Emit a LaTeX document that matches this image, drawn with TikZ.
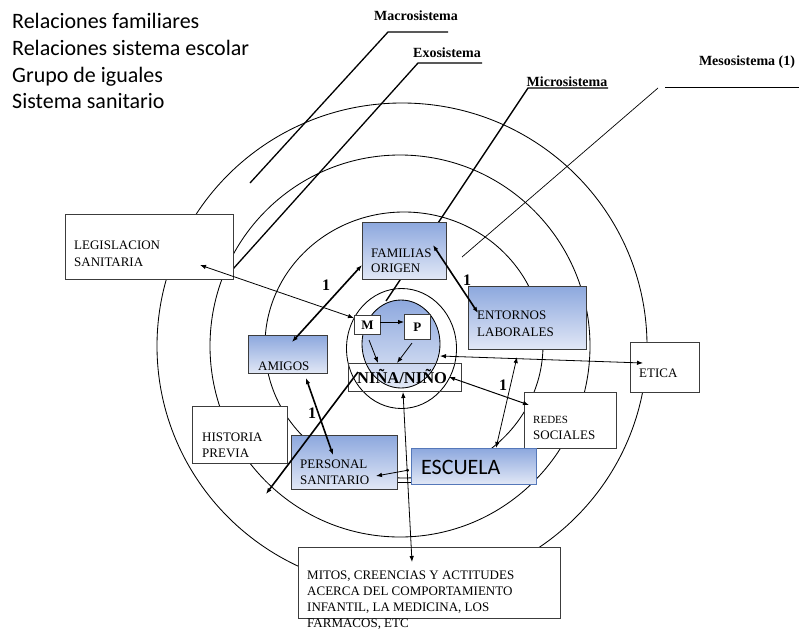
\documentclass[tikz,border=0pt]{standalone}
\usepackage{fontspec}
\setmainfont{Liberation Serif}
\newfontfamily\calib{Carlito}
\usetikzlibrary{arrows.meta,calc}
\definecolor{blueT}{RGB}{141,168,222}
\definecolor{blueB}{RGB}{226,232,246}
\definecolor{edgeG}{RGB}{60,60,60}
\definecolor{escB}{RGB}{85,120,185}
\begin{document}
\begin{tikzpicture}[x=1pt,y=-1pt,
  wbox/.style={draw=edgeG, fill=white, line width=0.8pt, inner sep=0pt, anchor=north west},
  bbox/.style={draw=edgeG, top color=blueT, bottom color=blueB, line width=0.9pt, inner sep=0pt, anchor=north west},
  txt/.style={font=\fontsize{13}{15}\selectfont, inner sep=0pt, anchor=base west},
  stxt/.style={font=\fontsize{11}{13}\selectfont, inner sep=0pt, anchor=base west},
  lbl/.style={font=\bfseries\fontsize{14}{16}\selectfont, inner sep=0pt, anchor=base},
  one/.style={font=\bfseries\fontsize{16}{18}\selectfont, inner sep=0pt},
  tl/.style={font=\calib\fontsize{22}{24}\selectfont, inner sep=0pt, anchor=base west},
  ring/.style={draw=black, line width=0.85pt},
  thinl/.style={line width=0.8pt},
  thickl/.style={line width=1.6pt},
  arr/.style={-{Latex[length=6pt,width=4.5pt]}},
  darr/.style={{Latex[length=6pt,width=4.5pt]}-{Latex[length=6pt,width=4.5pt]}}
]
\useasboundingbox (0,0) rectangle (799,632);
\fill[white] (0,0) rectangle (799,632);

% rings
\draw[ring] (402,346) ellipse [x radius=245pt, y radius=243pt];
\draw[ring] (400,346) ellipse [x radius=190pt, y radius=191pt];
\draw[ring] (404,345) ellipse [x radius=139pt, y radius=133pt];
\draw[ring] (401.5,348.5) ellipse [x radius=55pt, y radius=60pt];
\shade[top color=blueT, bottom color=blueB] (401,344) ellipse [x radius=39pt, y radius=44pt];
\draw[ring] (401,344) ellipse [x radius=39pt, y radius=44pt];

% top-left list
\node[tl] (l1) at (12,28) {Relaciones familiares};
\node[tl] (l2) at (12,55) {Relaciones sistema escolar};
\node[tl] (l3) at (12,82) {Grupo de iguales};
\node[tl] (l4) at (12,108) {Sistema sanitario};

% system labels and leaders
\node[lbl] (macro) at (416,20) {Macrosistema};
\node[lbl] (exo) at (447,57) {Exosistema};
\node[lbl] (micro) at (567,86) {Microsistema};
\node[lbl] (meso) at (747,65) {Mesosistema (1)};
\coordinate (macA) at (388,32); \coordinate (macB) at (448,32); \coordinate (macE) at (250,183);
\coordinate (exoA) at (418,63); \coordinate (exoB) at (482,63); \coordinate (exoE) at (233,269);
\coordinate (micA) at (528,88); \coordinate (micB) at (608,88); \coordinate (micE) at (386,301);
\coordinate (mesA) at (658,88); \coordinate (mesU) at (665,87); \coordinate (mesB) at (799,87); \coordinate (mesE) at (462,257);
\draw[line width=1.3pt] (macB) -- (macA) -- (macE);
\draw[line width=1.3pt] (exoB) -- (exoA) -- (exoE);
\draw[line width=1.4pt] (micB) -- (micA) -- (micE);
\draw[line width=0.8pt] (mesU) -- (mesB);
\draw[line width=0.7pt] (mesA) -- (mesE);

% boxes
\node[wbox, minimum width=168pt, minimum height=65pt] (leg) at (65,214) {};
\node[bbox, minimum width=84pt, minimum height=57pt] (fam) at (362,222) {};
\node[bbox, minimum width=118pt, minimum height=63pt] (ent) at (468,286) {};
\node[bbox, minimum width=79pt, minimum height=38pt] (ami) at (248,335) {};
\node[draw=edgeG, line width=0.8pt, inner sep=0pt, anchor=north west, minimum width=113pt, minimum height=28pt] (nin) at (348,363) {};
\node[wbox, minimum width=26pt, minimum height=19pt] (M) at (354,315) {};
\node[wbox, minimum width=26pt, minimum height=25pt] (P) at (404,314) {};
\node[wbox, minimum width=95pt, minimum height=57pt] (his) at (192,406) {};
\node[bbox, minimum width=106pt, minimum height=54pt] (per) at (291,435) {};
\node[wbox, minimum width=92pt, minimum height=56pt] (red) at (524,392) {};
\node[bbox, draw=escB, minimum width=125pt, minimum height=36pt] (esc) at (411,448) {};
\node[wbox, minimum width=69pt, minimum height=50pt] (eti) at (630,342) {};
\node[wbox, minimum width=262pt, minimum height=71pt] (mit) at (298,547) {};

% box texts
\node[txt] (tleg1) at (74,249) {LEGISLACION};
\node[txt] (tleg2) at (74,266) {SANITARIA};
\node[txt] (tfam1) at (371,257) {FAMILIAS};
\node[txt] (tfam2) at (371,272) {ORIGEN};
\node[txt] (tent1) at (477,319) {ENTORNOS};
\node[txt] (tent2) at (477,336) {LABORALES};
\node[txt] (tami) at (258,370) {AMIGOS};
\node[font=\bfseries\fontsize{16.5}{18}\selectfont, inner sep=0pt, anchor=base west] (tnin) at (357,383) {NIÑA/NIÑO};
\node[font=\bfseries\fontsize{13}{15}\selectfont, inner sep=0pt] (tM) at (M.center) {M};
\node[font=\bfseries\fontsize{13}{15}\selectfont, inner sep=0pt] (tP) at (P.center) {P};
\node[txt] (this1) at (202,441) {HISTORIA};
\node[txt] (this2) at (202,457) {PREVIA};
\node[txt] (tper1) at (300,468) {PERSONAL};
\node[txt] (tper2) at (300,484) {SANITARIO};
\node[stxt] (tred1) at (533,423) {REDES};
\node[txt] (tred2) at (533,439) {SOCIALES};
\node[font=\calib\fontsize{22}{24}\selectfont, inner sep=0pt, anchor=base west] (tesc) at (421,474.5) {ESCUELA};
\node[txt] (teti) at (639,377) {ETICA};
\node[txt] (tmit1) at (307,579) {MITOS, CREENCIAS Y ACTITUDES};
\node[txt] (tmit2) at (307,595) {ACERCA DEL COMPORTAMIENTO};
\node[txt] (tmit3) at (307,611) {INFANTIL, LA MEDICINA, LOS};
\node[txt] (tmit4) at (307,627) {FARMACOS, ETC};

% "1" labels
\node[one] (o1) at (326,285) {1};
\node[one] (o2) at (467,280) {1};
\node[one] (o3) at (503,385) {1};
\node[one] (o4) at (312,413) {1};

% connector end points
\coordinate (legT) at (200,265);
\coordinate (mL) at (354,318);
\coordinate (mR) at (380,322);
\coordinate (pL) at (404,322);
\coordinate (mB) at (369,340);
\coordinate (ninA) at (378,363);
\coordinate (pB) at (412,343);
\coordinate (ninB) at (397,363);
\coordinate (amiT) at (292,342);
\coordinate (famL) at (362,265);
\coordinate (famT) at (433,245);
\coordinate (entT) at (478,313);
\coordinate (eliR) at (440,356);
\coordinate (etiT) at (643,363);
\coordinate (entB) at (517,357);
\coordinate (escT) at (496,448);
\coordinate (ninR) at (449,377);
\coordinate (redT) at (529,405);
\coordinate (ninBot) at (403,392);
\coordinate (mitT) at (412,562);
\coordinate (escL) at (409,470);
\coordinate (perT) at (376,476);
\coordinate (amiB) at (306,378);
\coordinate (perA) at (333,455);
\coordinate (ninL) at (358,372);
\coordinate (hisT) at (266,494);

% connectors
\draw[thinl, darr] (legT) -- (mL);
\draw[thinl, arr] (mR) -- (pL);
\draw[thinl, arr] (mB) -- (ninA);
\draw[thinl, arr] (pB) -- (ninB);
\draw[thickl, darr] (amiT) -- (famL);
\draw[thickl, darr] (famT) -- (entT);
\draw[thinl, darr] (eliR) -- (etiT);
\draw[thinl, darr] (entB) -- (escT);
\draw[line width=1pt, darr] (ninR) -- (redT);
\draw[thinl, darr] (ninBot) -- (mitT);
\draw[thinl, {Circle[length=3pt]}-{Latex[length=6pt,width=4.5pt]}] (escL) -- (perT);
\draw[thinl] (per.east |- 0,482) -- (esc.west |- 0,482);
\draw[thickl, darr] (amiB) -- (perA);
\draw[thickl, arr] (ninL) -- (hisT);
\end{tikzpicture}
\end{document}
